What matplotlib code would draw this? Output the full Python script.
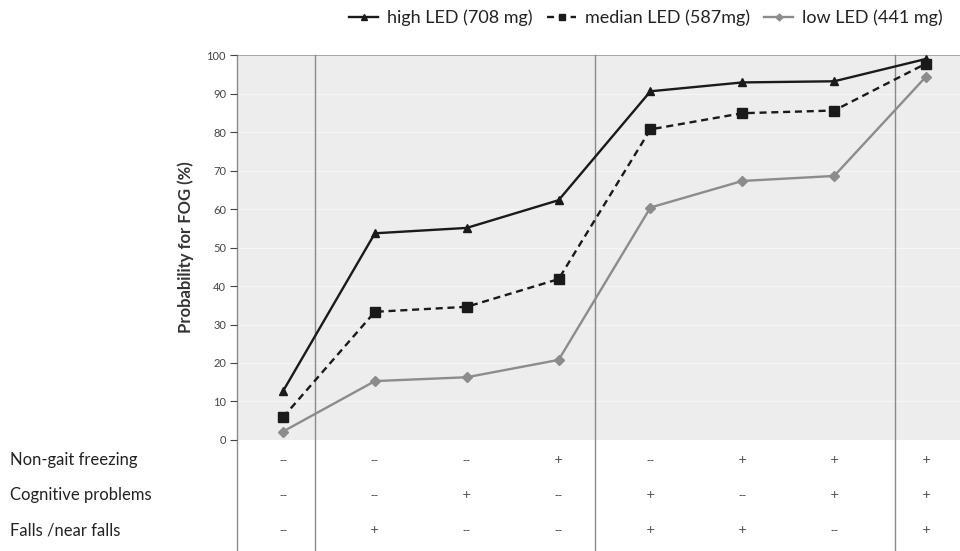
import matplotlib
matplotlib.use("Agg")
import matplotlib.pyplot as plt

plt.rcParams['font.family'] = ['Lato', 'DejaVu Sans']

# data
positions = list(range(8))
high_led = [12.7, 53.7, 55.1, 62.3, 90.6, 92.9, 93.2, 99.0]
median_led = [5.9, 33.3, 34.6, 41.8, 80.7, 84.9, 85.6, 97.8]
low_led = [2.2, 15.3, 16.3, 20.8, 60.4, 67.3, 68.6, 94.4]
series_labels = ['high LED (708 mg)', 'median LED (587mg)', 'low LED (441 mg)']

row_labels = ['Non-gait freezing', 'Cognitive problems', 'Falls /near falls']
non_gait = ['--', '--', '--', '+', '--', '+', '+', '+']
cognitive = ['--', '--', '+', '--', '+', '--', '+', '+']
falls = ['--', '+', '--', '--', '+', '+', '--', '+']
separators = [-0.5, 0.35, 3.40, 6.66]

fig = plt.figure(figsize=(9.6, 5.51), dpi=100, facecolor='w')
ax = fig.add_axes([0.247, 0.2015, 0.753, 0.6985], facecolor='#ededed')

ax.set_xlim(-0.5, 7.37)
ax.set_ylim(0, 100)

######################################################
for yv in range(10, 100, 10):
    ax.axhline(yv, color='#f6f6f6', lw=0.8, zorder=0)
ax.axhline(100, color='#9a9a9a', lw=1.2, zorder=1)

for sx in separators:
    ax.axvline(sx, ymin=-0.29, ymax=1.0, color='#8a8a8a', lw=1.0,
               clip_on=False, zorder=1)

######################################################
ax.plot(positions, high_led, color='#1a1a1a', ls='-', lw=1.7, marker='^',
        ms=6, label=series_labels[0], zorder=4)
ax.plot(positions, median_led, color='#1a1a1a', ls=(0, (3, 2)), lw=1.7,
        marker='s', ms=6.5, label=series_labels[1], zorder=3)
ax.plot(positions, low_led, color='#8c8c8c', ls='-', lw=1.7, marker='D',
        ms=5, label=series_labels[2], zorder=2)

######################################################
for sp in ['top', 'right', 'bottom', 'left']:
    ax.spines[sp].set_visible(False)
ax.set_xticks([])
ax.set_yticks(range(0, 101, 10))
ax.tick_params(axis='y', labelsize=8, colors='#444444', length=5,
               width=0.8, pad=3)
ax.set_ylabel('Probability for FOG (%)', fontsize=12, weight='bold',
              color='#333333', labelpad=9)

######################################################
rows = [non_gait, cognitive, falls]
row_y = [-5.2, -14.3, -23.4]
for lab, vals, yy in zip(row_labels, rows, row_y):
    fig.text(10 / 960, ax.transData.transform((0, yy))[1] / fig.bbox.height,
             lab, fontsize=12, color='#222222', va='center', ha='left')
    for xx, v in zip(positions, vals):
        ax.text(xx, yy, v, fontsize=8, color='#3a3a3a', ha='center',
                va='center', clip_on=False, family='DejaVu Sans')

fig.legend(loc='center', bbox_to_anchor=(0.673, 0.967), ncol=3,
           frameon=False, fontsize=13, handlelength=1.6, columnspacing=0.8,
           handletextpad=0.5, markerscale=0.7, labelcolor='#222222')

plt.savefig('out.png', dpi=100, facecolor='w')
